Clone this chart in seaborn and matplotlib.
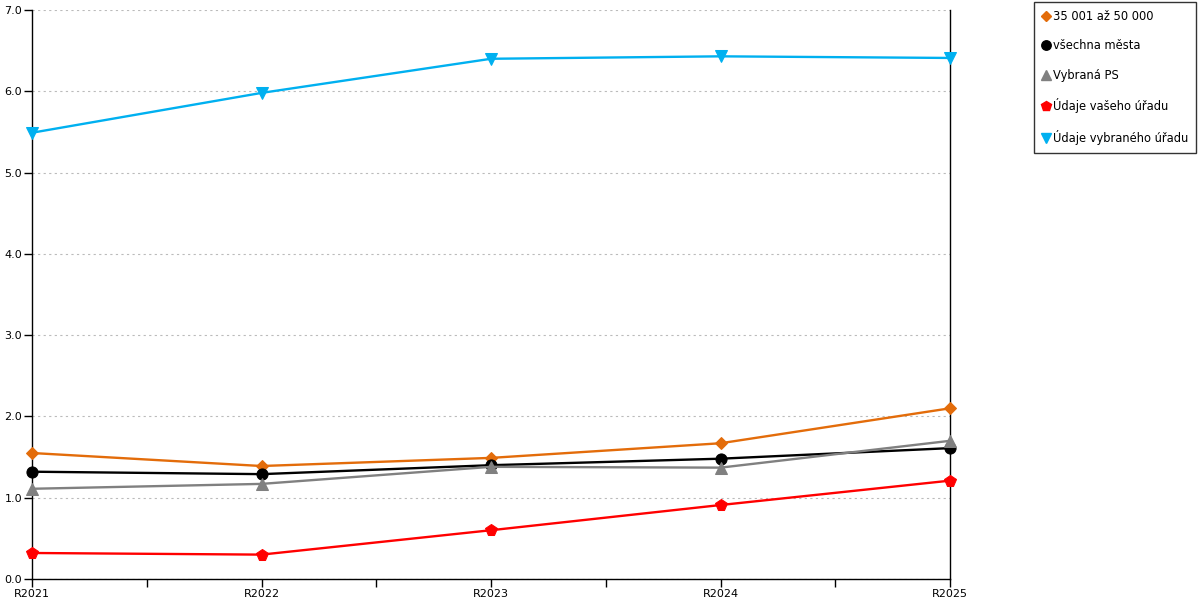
import pandas as pd
import seaborn as sns
import matplotlib.pyplot as plt
from matplotlib.lines import Line2D
from matplotlib.ticker import MultipleLocator

years = ['R2021', 'R2022', 'R2023', 'R2024', 'R2025']
group_35_50 = [1.55, 1.39, 1.49, 1.67, 2.10]
all_towns = [1.32, 1.29, 1.40, 1.48, 1.61]
selected_ps = [1.11, 1.17, 1.38, 1.37, 1.70]
your_office = [0.32, 0.30, 0.60, 0.91, 1.21]
selected_office = [5.49, 5.98, 6.40, 6.43, 6.41]

series = [
    ('35 001 až 50 000', group_35_50, '#E36C0A', 'D', 6),
    ('všechna města', all_towns, '#000000', 'o', 8),
    ('Vybraná PS', selected_ps, '#808080', '^', 8),
    ('Údaje vašeho úřadu', your_office, '#FF0000', 'p', 8.5),
    ('Údaje vybraného úřadu', selected_office, '#00B0F0', 'v', 8),
]

sns.set_theme(style='white')
plt.rcParams['font.family'] = ['DejaVu Sans']
plt.rcParams['text.color'] = 'black'

fig = plt.figure(figsize=(12, 6), dpi=100)
ax = fig.add_axes([32 / 1200, 21 / 600, 918 / 1200, 569 / 600])

handles = []
for name, vals, color, marker, size in series:
    df = pd.DataFrame({'x': range(len(years)), 'y': vals})
    sns.lineplot(x='x', y='y', data=df, ax=ax, color=color, marker=marker,
                 markersize=size, markeredgecolor=color, linewidth=1.7,
                 clip_on=False, zorder=3)
    handles.append(Line2D([], [], linestyle='None', marker=marker,
                          markersize=size, color=color,
                          markeredgecolor=color, label=name))

ax.set_xlim(0, len(years) - 1)
ax.set_ylim(0, 7)
ax.set_xticks(range(len(years)))
ax.set_xticklabels(years)
ax.xaxis.set_minor_locator(MultipleLocator(0.5))
ax.yaxis.set_major_locator(MultipleLocator(1))
ax.yaxis.set_major_formatter(plt.FormatStrFormatter('%.1f'))
ax.set_xlabel('')
ax.set_ylabel('')

ax.grid(axis='y', linestyle=(0, (2, 3)), color='#BBBBBB', linewidth=0.8)
ax.set_axisbelow(True)

for side in ['left', 'bottom', 'right']:
    ax.spines[side].set_color('black')
    ax.spines[side].set_linewidth(1)
ax.spines['top'].set_visible(False)

ax.tick_params(axis='both', which='major', direction='out', length=6,
               width=1, color='black', labelcolor='black', labelsize=8,
               pad=1, bottom=True, left=True)
ax.tick_params(axis='x', which='minor', direction='out', length=6,
               width=1, color='black', bottom=True)

leg = fig.legend(handles=handles, loc='upper left',
                 bbox_to_anchor=(1034 / 1200, 1 - 2 / 600),
                 frameon=True, fancybox=False, fontsize=8.3,
                 handlelength=0.6, handletextpad=0.35, labelspacing=1.42,
                 borderpad=0.7, borderaxespad=0, markerscale=0.85)
leg.get_frame().set_edgecolor('black')
leg.get_frame().set_linewidth(1)

fig.savefig('out.png', dpi=100)
